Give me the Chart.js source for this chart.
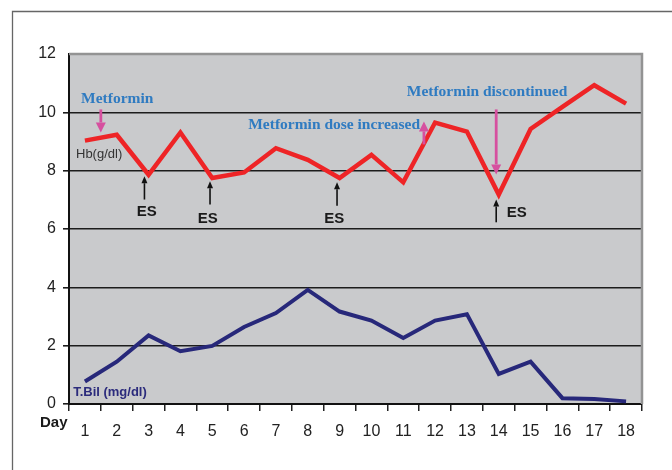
<!DOCTYPE html>
<html>
<head>
<meta charset="utf-8">
<script src="https://cdn.jsdelivr.net/npm/chart.js@4.4.1/dist/chart.umd.min.js"></script>
<style>
  html, body { margin: 0; padding: 0; background: #fff; }
  #wrap { position: relative; width: 672px; height: 470px; }
</style>
</head>
<body>
<div id="wrap"><canvas id="c" width="672" height="470"></canvas></div>
<script>
// Data
var days = ['1', '2', '3', '4', '5', '6', '7', '8', '9', '10', '11', '12', '13', '14', '15', '16', '17', '18'];
var hb = [9.03, 9.23, 7.86, 9.31, 7.75, 7.94, 8.77, 8.37, 7.75, 8.54, 7.6, 9.65, 9.34, 7.18, 9.43, 10.19, 10.93, 10.3];
var tbil = [0.77, 1.45, 2.35, 1.81, 1.99, 2.64, 3.12, 3.91, 3.17, 2.86, 2.26, 2.86, 3.08, 1.03, 1.45, 0.2, 0.17, 0.09];
var yMin = 0, yMax = 12, yStep = 2;

// Annotations, positioned in data units (day number, value)
var notes = [
  { text: 'Metformin', day: 0.88, v: 10.47, kind: 'blue' },
  { text: 'Metformin dose increased', day: 6.13, v: 9.58, kind: 'blue' },
  { text: 'Metformin discontinued', day: 11.11, v: 10.7, kind: 'blue' },
  { text: 'Hb(g/dl)', day: 0.72, v: 8.55, kind: 'hb' },
  { text: 'T.Bil (mg/dl)', day: 0.63, v: 0.38, kind: 'tbil' },
  { text: 'ES', day: 2.94, v: 6.58, kind: 'es', align: 'center' },
  { text: 'ES', day: 4.86, v: 6.36, kind: 'es', align: 'center' },
  { text: 'ES', day: 8.83, v: 6.36, kind: 'es', align: 'center' },
  { text: 'ES', day: 14.25, v: 6.57, kind: 'es' }
];
// arrows: from -> to (tip), pink = drug events, black = ES
var arrows = [
  { day: 1.5, from: 10.1, to: 9.31, kind: 'pink' },
  { day: 11.65, from: 8.9, to: 9.69, kind: 'pink' },
  { day: 13.92, from: 10.1, to: 7.87, kind: 'pink' },
  { day: 2.87, from: 7.01, to: 7.81, kind: 'black' },
  { day: 4.93, from: 6.84, to: 7.64, kind: 'black' },
  { day: 8.92, from: 6.8, to: 7.6, kind: 'black' },
  { day: 13.92, from: 6.23, to: 7.01, kind: 'black' }
];

var SANS = '"Liberation Sans", Arial, sans-serif';
var SERIF = '"Liberation Serif", "Times New Roman", serif';

function drawArrow(ctx, x, y1, y2, color, lw, hl, hw) {
  var dir = y2 > y1 ? 1 : -1;
  ctx.save();
  ctx.strokeStyle = color; ctx.fillStyle = color; ctx.lineWidth = lw;
  ctx.beginPath();
  ctx.moveTo(x, y1); ctx.lineTo(x, y2 - dir * hl);
  ctx.stroke();
  ctx.beginPath();
  ctx.moveTo(x, y2);
  ctx.lineTo(x - hw / 2, y2 - dir * hl);
  ctx.lineTo(x + hw / 2, y2 - dir * hl);
  ctx.closePath(); ctx.fill();
  ctx.restore();
}

var decor = {
  id: 'decor',
  beforeDraw: function (chart) {
    var a = chart.chartArea, ctx = chart.ctx;
    ctx.save();
    ctx.fillStyle = '#c9cacc';
    ctx.fillRect(a.left, a.top, a.right - a.left, a.bottom - a.top);
    ctx.restore();
  },
  afterDraw: function (chart) {
    var a = chart.chartArea, ctx = chart.ctx;
    var xs = chart.scales.x, ys = chart.scales.y;
    ctx.save();
    // outer frame (only top and left edges fall inside the picture)
    ctx.strokeStyle = '#666'; ctx.lineWidth = 1.3;
    ctx.beginPath();
    ctx.moveTo(12.5, 470); ctx.lineTo(12.5, 11.5); ctx.lineTo(672, 11.5);
    ctx.stroke();
    // plot area border top / right
    ctx.strokeStyle = '#939393'; ctx.lineWidth = 2.5;
    ctx.beginPath();
    ctx.moveTo(a.left, a.top); ctx.lineTo(a.right, a.top); ctx.lineTo(a.right, a.bottom);
    ctx.stroke();

    arrows.forEach(function (r) {
      var x = xs.getPixelForValue(r.day - 1);
      if (r.kind === 'pink') drawArrow(ctx, x, ys.getPixelForValue(r.from), ys.getPixelForValue(r.to), '#d6509f', 2.8, 10, 10);
      else drawArrow(ctx, x, ys.getPixelForValue(r.from), ys.getPixelForValue(r.to), '#111', 1.6, 7, 6);
    });

    ctx.textBaseline = 'middle';
    notes.forEach(function (n) {
      var x = xs.getPixelForValue(n.day - 1), y = ys.getPixelForValue(n.v);
      ctx.textAlign = n.align || 'left';
      if (n.kind === 'blue') { ctx.font = 'bold 15.5px ' + SERIF; ctx.fillStyle = '#2f7bc1'; }
      else if (n.kind === 'hb') { ctx.font = '13px ' + SANS; ctx.fillStyle = '#333'; }
      else if (n.kind === 'tbil') { ctx.font = 'bold 13px ' + SANS; ctx.fillStyle = '#2b2b7c'; }
      else { ctx.font = 'bold 15px ' + SANS; ctx.fillStyle = '#1a1a1a'; }
      ctx.fillText(n.text, x, y);
    });

    ctx.textAlign = 'left';
    ctx.font = 'bold 15px ' + SANS; ctx.fillStyle = '#1a1a1a';
    ctx.fillText('Day', a.left - 29, a.bottom + 19);
    ctx.restore();
  }
};

new Chart(document.getElementById('c').getContext('2d'), {
  type: 'line',
  data: {
    labels: days,
    datasets: [
      { label: 'Hb', data: hb, borderColor: '#ee2426', borderWidth: 4.5, pointRadius: 0, tension: 0, borderJoinStyle: 'miter', borderCapStyle: 'butt', fill: false },
      { label: 'T.Bil', data: tbil, borderColor: '#27287a', borderWidth: 4, pointRadius: 0, tension: 0, borderJoinStyle: 'miter', borderCapStyle: 'butt', fill: false }
    ]
  },
  options: {
    responsive: false, animation: false,
    layout: { padding: { top: 54, right: 30, left: 0, bottom: 0 } },
    plugins: { legend: { display: false }, tooltip: { enabled: false }, title: { display: false } },
    scales: {
      x: {
        type: 'category', offset: true,
        grid: { offset: true, drawOnChartArea: false, drawTicks: true, tickLength: 7, color: '#222', lineWidth: 1.5 },
        border: { color: '#111', width: 2 },
        ticks: { color: '#222', font: { family: SANS, size: 16 }, padding: 11, maxRotation: 0, autoSkip: false },
        afterFit: function (s) { s.height = 66; }
      },
      y: {
        min: yMin, max: yMax,
        grid: {
          color: '#1c1c1c', tickLength: 6,
          lineWidth: function (c) { return c.tick && c.tick.value === yMax ? 0 : 1.6; }
        },
        border: { color: '#111', width: 2 },
        ticks: { stepSize: yStep, color: '#222', font: { family: SANS, size: 16 }, padding: 7 },
        afterFit: function (s) { s.width = 69; }
      }
    }
  },
  plugins: [decor]
});
</script>
</body>
</html>
